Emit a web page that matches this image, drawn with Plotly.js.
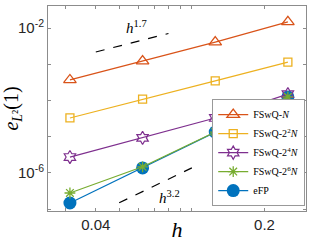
<!DOCTYPE html>
<html><head><meta charset="utf-8">
<script src="https://cdn.plot.ly/plotly-3.0.1.min.js"></script>
<style>html,body{margin:0;padding:0;background:#fff}#plot{width:323px;height:242px}</style>
</head><body><div id="plot"></div>
<script>
const h = [1/32, 1/16, 1/8, 1/4];
const errN  = [3.7e-4, 1.23e-3, 4.1e-3, 1.48e-2];
const err2N = [3.3e-5, 1.1e-4, 3.5e-4, 1.15e-3];
const err4N = [2.75e-6, 9.3e-6, 3.3e-5, 1.5e-4];
const err6N = [2.8e-7, 1.48e-6, 1.35e-5, 1.26e-4];
const errFP = [1.48e-7, 1.38e-6, 1.35e-5, 1.26e-4];
const ref17X = [0.04, 0.08];
const ref17Y = [2.19e-3, 7.1e-3];
const ref32X = [0.05, 0.1];
const ref32Y = [1.5e-7, 1.38e-6];
const names = ['FSwQ-<i>N</i>', 'FSwQ-2<sup>2</sup><i>N</i>', 'FSwQ-2<sup>4</sup><i>N</i>', 'FSwQ-2<sup>6</sup><i>N</i>', 'eFP'];
const xTickVals = [0.03,0.04,0.05,0.06,0.07,0.08,0.09,0.1,0.2,0.3];
const xTickText = ['','0.04','','','','','','','0.2',''];
const yTickVals = [1e-2,1e-3,1e-4,1e-5,1e-6,1e-7];
const yTickText = ['10<sup>-2</sup>','','','','10<sup>-6</sup>',''];

const lw = 1.2;
const traces = [
  {x:h, y:errFP, name:names[4], legendrank:5, mode:'lines+markers', line:{color:'#0072BD',width:lw}, marker:{symbol:'circle',size:13,color:'#0072BD'}},
  {x:h, y:errN, name:names[0], legendrank:1, mode:'lines+markers', line:{color:'#D95319',width:lw}, marker:{symbol:'triangle-up-open',size:11,color:'#D95319',line:{width:1.3}}},
  {x:h, y:err2N, name:names[1], legendrank:2, mode:'lines+markers', line:{color:'#EDB120',width:lw}, marker:{symbol:'square-open',size:8,color:'#EDB120',line:{width:1.3}}},
  {x:h, y:err4N, name:names[2], legendrank:3, mode:'lines+markers', line:{color:'#7E2F8E',width:lw}, marker:{symbol:'hexagram-open',size:10,color:'#7E2F8E',line:{width:1.2}}},
  {x:h, y:err6N, name:names[3], legendrank:4, mode:'lines+markers', line:{color:'#77AC30',width:lw}, marker:{symbol:'asterisk-open',size:9,color:'#77AC30',line:{width:1.3,color:'#77AC30'}}},
  {x:ref17X, y:ref17Y, mode:'lines', showlegend:false, line:{color:'#000',width:1.2,dash:'dash'}},
  {x:ref32X, y:ref32Y, mode:'lines', showlegend:false, line:{color:'#000',width:1.2,dash:'dash'}}
];
const axLine = '#8c8c8c';
const layout = {
  width:323, height:242,
  margin:{l:48, r:17, t:6, b:31},
  paper_bgcolor:'#fff', plot_bgcolor:'#fff',
  showlegend:true,
  xaxis:{type:'log', range:[-1.596,-0.527], tickmode:'array', tickvals:xTickVals, ticktext:xTickText,
    ticks:'inside', ticklen:3, tickcolor:axLine, showline:true, linecolor:axLine, linewidth:1, mirror:'ticks',
    showgrid:false, zeroline:false, tickfont:{family:'Liberation Sans, Arial', size:15, color:'#262626'},
    title:{text:'<i>h</i>', font:{family:'Liberation Serif, serif', size:22, color:'#000'}, standoff:2}},
  yaxis:{type:'log', range:[-7.05,-1.39], tickmode:'array', tickvals:yTickVals, ticktext:yTickText,
    ticks:'inside', ticklen:3, tickcolor:axLine, showline:true, linecolor:axLine, linewidth:1, mirror:'ticks',
    showgrid:false, zeroline:false, tickfont:{family:'Liberation Sans, Arial', size:15, color:'#262626'},
    title:{text:'<i>e</i><sub><i>L</i>²</sub>(1)', font:{family:'Liberation Serif, serif', size:20, color:'#000'}, standoff:4}},
  legend:{x:0.997, xanchor:'right', y:0.024, yanchor:'bottom', bgcolor:'#fff', bordercolor:'#999', borderwidth:1,
    font:{family:'Liberation Serif, serif', size:10, color:'#000'}, itemwidth:30, tracegroupgap:0, itemsizing:'trace'},
  annotations:[
    {x:Math.log10(0.059), y:Math.log10(0.0107), xref:'x', yref:'y', text:'<i>h</i><sup>1.7</sup>', showarrow:false, font:{family:'Liberation Serif, serif', size:15, color:'#000'}},
    {x:Math.log10(0.081), y:Math.log10(2.2e-7), xref:'x', yref:'y', text:'<i>h</i><sup>3.2</sup>', showarrow:false, font:{family:'Liberation Serif, serif', size:15, color:'#000'}}
  ]
};
Plotly.newPlot('plot', traces, layout, {staticPlot:true, displayModeBar:false});
</script></body></html>
